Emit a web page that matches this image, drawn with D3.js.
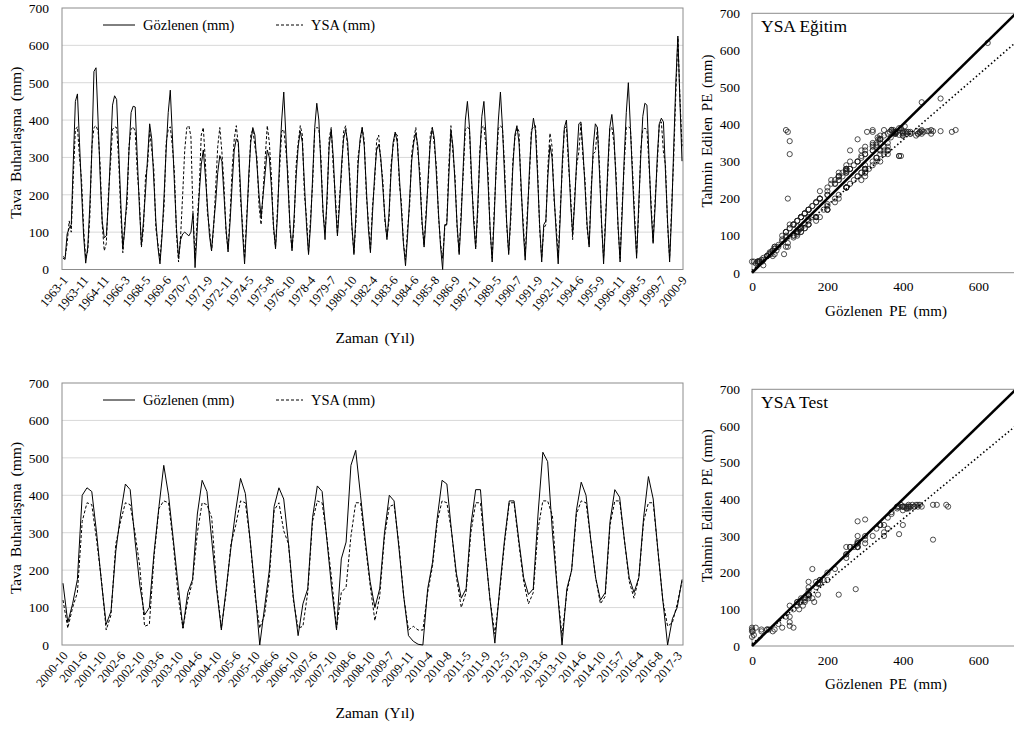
<!DOCTYPE html>
<html>
<head>
<meta charset="utf-8">
<script src="https://cdn.jsdelivr.net/npm/d3@7"></script>
<style>
  body { margin: 0; background: #fff; }
  svg, svg text { font-family: "Liberation Serif", "Times New Roman", Times, "DejaVu Serif", serif; }
</style>
</head>
<body>
<svg id="chart" width="1014" height="731"></svg>
<script>
// 1963-2000 egitim donemi, gozlenen ve YSA (mm)
var trainObs = [30,27,95,110,120,290,450,470,340,210,90,17,
  60,170,320,530,540,400,250,130,85,
  90,180,310,440,465,455,320,180,55,
  110,200,320,420,437,435,300,170,65,
  130,210,300,390,350,240,130,60,15,
  90,200,320,420,480,360,230,110,30,
  80,95,100,95,90,100,150,5,
  100,200,280,320,250,170,90,50,
  120,180,260,305,290,200,110,47,
  130,230,320,350,340,220,100,15,
  120,250,340,380,360,280,200,140,
  200,260,320,300,220,120,55,
  150,300,400,475,360,230,120,50,
  140,250,330,370,340,230,120,40,
  120,250,380,445,400,280,160,80,
  200,330,375,300,180,90,
  170,280,350,375,340,230,120,40,
  150,280,350,380,330,220,110,45,
  150,250,320,335,300,220,140,80,
  150,260,340,368,340,250,160,70,10,
  90,190,290,340,365,330,230,130,60,
  140,250,340,380,350,250,150,60,0,
  120,120,250,370,330,230,120,40,
  140,280,400,450,380,250,130,55,
  170,300,410,450,360,230,110,20,
  140,290,400,475,380,250,130,40,
  150,270,360,385,340,230,110,25,
  130,260,360,405,370,250,120,20,
  120,130,250,333,300,200,100,15,
  140,290,380,400,300,180,95,
  180,300,390,395,320,220,120,60,
  200,330,390,380,260,130,15,
  130,270,380,415,360,240,120,20,
  150,300,420,500,380,250,130,30,
  170,300,410,445,440,300,160,70,
  170,300,390,405,395,260,130,20,
  150,330,500,625,450,290];

var trainYsa = [35,30,70,130,100,250,375,382,300,240,110,30,
  50,140,330,380,385,370,280,120,50,
  70,200,280,375,382,380,290,150,45,
  130,170,330,375,382,370,260,190,60,
  110,250,280,372,320,270,110,70,25,
  100,170,340,375,382,330,260,95,20,
  90,200,320,380,385,355,150,30,
  130,210,360,380,290,150,110,50,
  110,220,330,380,315,230,100,55,
  150,270,350,385,330,190,120,30,
  140,230,360,375,330,300,170,120,
  210,300,385,340,250,110,60,
  170,270,370,375,320,260,105,55,
  120,280,340,385,360,200,140,45,
  140,230,375,380,378,300,150,100,
  180,350,380,270,200,95,
  190,260,370,385,320,250,110,45,
  130,300,340,380,345,200,130,50,
  170,230,345,360,290,240,130,85,
  130,280,330,365,360,230,180,70,25,
  110,170,310,350,380,310,260,120,65,
  160,230,360,380,330,275,140,70,30,
  110,125,280,385,310,250,110,45,
  160,260,375,382,375,230,150,60,
  150,320,380,385,330,260,100,30,
  160,270,378,385,378,280,120,45,
  130,290,350,380,370,210,130,35,
  150,240,375,380,385,270,110,30,
  110,120,275,365,330,185,120,30,
  160,270,378,382,280,200,80,
  200,280,315,390,300,240,110,65,
  220,310,315,380,280,120,30,
  150,250,378,380,340,260,110,30,
  170,280,380,382,378,270,150,40,
  150,320,375,378,375,280,180,75,
  190,280,390,395,315,280,120,30,
  170,300,470,620,460,330];

var trainLabels = ["1963-1","1963-11","1964-11","1966-3","1968-5","1969-6","1970-7","1971-9",
  "1972-11","1974-5","1975-8","1976-10","1978-4","1979-7","1980-10","1982-4","1983-6",
  "1984-6","1985-8","1986-9","1987-11","1989-5","1990-7","1991-9","1992-11","1994-6",
  "1995-9","1996-11","1998-5","1999-7","2000-9"];

// 2000-2017 test donemi
var testObs = [165,60,110,175,400,420,410,300,170,55,
  90,250,350,430,415,280,160,80,
  100,250,370,480,400,280,160,45,
  140,175,350,440,410,280,150,40,
  150,260,360,445,405,280,150,0,
  100,200,370,420,390,270,130,25,
  110,150,340,425,410,280,150,40,
  230,275,480,520,400,280,170,100,
  150,300,400,385,260,130,25,
  10,2,0,150,220,340,440,430,300,190,125,150,320,415,415,250,120,5,
  150,280,385,385,280,180,135,150,
  350,515,490,300,150,0,
  150,200,360,435,400,280,180,120,
  140,330,415,395,280,180,140,180,340,450,390,250,120,0,70,100,175];

var testYsa = [120,45,100,140,330,380,375,280,175,40,
  80,270,330,380,375,300,210,50,
  55,240,365,385,380,270,130,45,
  120,170,300,380,375,340,160,45,
  140,270,320,385,380,280,135,45,
  80,180,360,380,305,270,120,45,
  50,140,330,385,380,285,175,45,
  140,155,290,380,380,270,160,65,
  130,290,370,375,270,130,40,
  50,40,40,140,210,330,385,380,300,180,100,140,300,380,380,250,120,30,
  140,270,380,380,270,170,110,140,
  310,385,385,345,150,25,
  140,200,350,385,380,280,180,110,
  130,320,385,385,280,170,125,180,330,380,380,250,120,50,60,110,170];

var testLabels = ["2000-10","2001-6","2001-10","2002-6","2002-10","2003-6","2003-10","2004-6",
  "2004-10","2005-6","2005-10","2006-6","2006-10","2007-6","2007-10","2008-6","2008-10",
  "2009-7","2009-11","2010-4","2010-8","2011-5","2011-9","2012-5","2012-9","2013-6",
  "2013-10","2014-6","2014-10","2015-7","2016-4","2016-8","2017-3"];

var yTicks = [0, 100, 200, 300, 400, 500, 600, 700];
var xTicksPE = [0, 200, 400, 600];
// dogrusal egilim [egim, kesisim]
var trainFit = [0.88, 6];
var testFit = [0.85, 6];

var FONT = '"Liberation Serif", "Times New Roman", Times, "DejaVu Serif", serif';
var svg = d3.select("#chart").attr("font-family", FONT);

//zaman serisi paneli
function seriesPanel(o) {
  var g = svg.append("g");
  var y = d3.scaleLinear().domain([0, 700]).range([o.bottom, o.top]);
  var x = d3.scalePoint().domain(d3.range(o.obs.length)).range([o.left + 1, o.right - 1]);

  g.selectAll(".grid").data(yTicks.slice(1, -1)).enter().append("line")
    .attr("x1", o.left).attr("x2", o.right)
    .attr("y1", function(d) { return y(d); }).attr("y2", function(d) { return y(d); })
    .attr("stroke", "#d9d9d9").attr("stroke-width", 1);

  g.append("rect").attr("x", o.left).attr("y", o.top)
    .attr("width", o.right - o.left).attr("height", o.bottom - o.top)
    .attr("fill", "none").attr("stroke", "#8c8c8c");

  var yAxis = d3.axisLeft(y).tickValues(yTicks).tickSize(0).tickPadding(13);
  g.append("g").attr("transform", "translate(" + o.left + ",0)").call(yAxis)
    .attr("font-family", FONT)
    .call(function(a) { a.select(".domain").remove(); })
    .selectAll("text").attr("font-size", 13.5).attr("fill", "#000");

  var xAxis = d3.axisBottom(x)
    .tickValues(d3.range(0, o.obs.length, o.step))
    .tickFormat(function(d) { return o.labels[d / o.step]; })
    .tickSize(0);
  g.append("g").attr("transform", "translate(0," + o.bottom + ")").call(xAxis)
    .attr("font-family", FONT)
    .call(function(a) { a.select(".domain").remove(); })
    .selectAll("text")
    .attr("font-size", 12.5).attr("fill", "#000")
    .attr("text-anchor", "end")
    .attr("dy", null).attr("y", 0)
    .attr("transform", "translate(5,11) rotate(-50)");

  var line = d3.line().x(function(d, i) { return x(i); }).y(function(d) { return y(d); });
  g.append("path").datum(o.ysa).attr("d", line).attr("fill", "none")
    .attr("stroke", "#000").attr("stroke-width", 1).attr("stroke-dasharray", "3,2");
  g.append("path").datum(o.obs).attr("d", line).attr("fill", "none")
    .attr("stroke", "#000").attr("stroke-width", 1);

  // legend
  var ly = o.top + 17;
  g.append("line").attr("x1", 103).attr("x2", 135).attr("y1", ly).attr("y2", ly)
    .attr("stroke", "#000");
  g.append("text").attr("x", 143).attr("y", ly + 5).attr("font-size", 14.5).text("Gözlenen (mm)");
  g.append("line").attr("x1", 276).attr("x2", 303).attr("y1", ly).attr("y2", ly)
    .attr("stroke", "#000").attr("stroke-dasharray", "3,2");
  g.append("text").attr("x", 311).attr("y", ly + 5).attr("font-size", 14.5).text("YSA (mm)");

  g.append("text").attr("transform", "translate(21," + ((o.top + o.bottom) / 2 + 4) + ") rotate(-90)")
    .attr("text-anchor", "middle").attr("font-size", 15.5).attr("word-spacing", 3)
    .text("Tava Buharlaşma (mm)");
  g.append("text").attr("x", 375).attr("y", o.bottom + 73).attr("text-anchor", "middle")
    .attr("font-size", 15.5).attr("word-spacing", 2).text("Zaman (Yıl)");
}

//dagilim paneli
function scatterPanel(o) {
  var g = svg.append("g");
  var x = d3.scaleLinear().domain([0, 700]).range([o.left, o.left + 264]);
  var y = d3.scaleLinear().domain([0, 700]).range([o.bottom, o.top]);

  g.append("rect").attr("x", o.left).attr("y", o.top)
    .attr("width", 264).attr("height", o.bottom - o.top)
    .attr("fill", "none").attr("stroke", "#8c8c8c");

  g.append("g").attr("transform", "translate(" + o.left + ",0)")
    .call(d3.axisLeft(y).tickValues(yTicks).tickSize(0).tickPadding(12))
    .attr("font-family", FONT)
    .call(function(a) { a.select(".domain").remove(); })
    .selectAll("text").attr("font-size", 13.5).attr("fill", "#000");
  g.append("g").attr("transform", "translate(0," + o.bottom + ")")
    .call(d3.axisBottom(x).tickValues(xTicksPE).tickSize(0).tickPadding(9))
    .attr("font-family", FONT)
    .call(function(a) { a.select(".domain").remove(); })
    .selectAll("text").attr("font-size", 13.5).attr("fill", "#000");

  var pts = o.obs.map(function(d, i) { return [d, o.ysa[i]]; });
  g.selectAll(".pt").data(pts).enter().append("circle")
    .attr("cx", function(d) { return x(d[0]); })
    .attr("cy", function(d) { return y(d[1]); })
    .attr("r", 2.6).attr("fill", "none").attr("stroke", "#222").attr("stroke-width", 0.8);

  g.append("line").attr("x1", x(0)).attr("y1", y(o.fit[1]))
    .attr("x2", x(700)).attr("y2", y(o.fit[0] * 700 + o.fit[1]))
    .attr("stroke", "#000").attr("stroke-width", 1.6).attr("stroke-dasharray", "1.5,2.5");
  g.append("line").attr("x1", x(0)).attr("y1", y(0)).attr("x2", x(700)).attr("y2", y(700))
    .attr("stroke", "#000").attr("stroke-width", 2.6);

  g.append("text").attr("x", o.left + 9).attr("y", o.top + 19).attr("font-size", 17.5).text(o.title);
  g.append("text").attr("transform", "translate(712," + ((o.top + o.bottom) / 2 - 12) + ") rotate(-90)")
    .attr("text-anchor", "middle").attr("font-size", 15).attr("word-spacing", 2)
    .text("Tahmin Edilen PE (mm)");
  g.append("text").attr("x", 886).attr("y", o.bottom + 43).attr("text-anchor", "middle")
    .attr("font-size", 15).attr("word-spacing", 3).text("Gözlenen PE (mm)");
}

seriesPanel({ left: 62, right: 683, top: 8, bottom: 269.5, obs: trainObs, ysa: trainYsa, labels: trainLabels, step: 10 });
seriesPanel({ left: 62, right: 683, top: 383, bottom: 645, obs: testObs, ysa: testYsa, labels: testLabels, step: 4 });
scatterPanel({ left: 752, top: 13.3, bottom: 272.7, obs: trainObs, ysa: trainYsa, fit: trainFit, title: "YSA Eğitim" });
scatterPanel({ left: 752, top: 389.3, bottom: 646, obs: testObs, ysa: testYsa, fit: testFit, title: "YSA Test" });
</script>
</body>
</html>
